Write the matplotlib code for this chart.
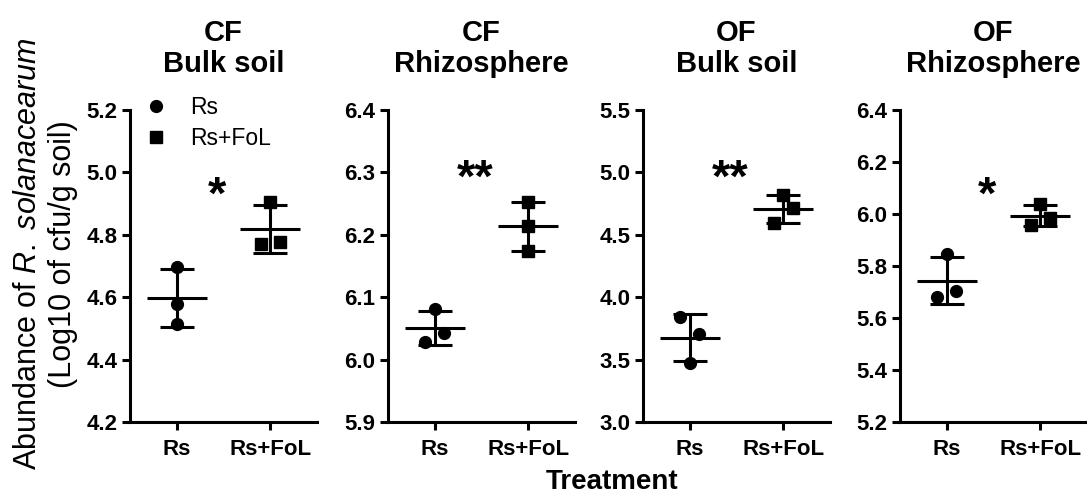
import numpy as np
import matplotlib
matplotlib.use("Agg")
import matplotlib.pyplot as plt
from matplotlib.ticker import FormatStrFormatter, MultipleLocator

plt.rcParams["font.family"] = ["Liberation Sans", "DejaVu Sans"]
plt.rcParams["mathtext.fontset"] = "custom"
plt.rcParams["mathtext.rm"] = "Liberation Sans"
plt.rcParams["mathtext.it"] = "Liberation Sans:italic"

# ---- data: log10 cfu/g soil, three replicates per group ----
TITLES = ["CF\nBulk soil", "CF\nRhizosphere", "OF\nBulk soil", "OF\nRhizosphere"]
GROUPS = ["Rs", "Rs+FoL"]

RS = [
    [4.697, 4.578, 4.515],
    [6.081, 6.029, 6.042],
    [3.845, 3.705, 3.475],
    [5.846, 5.682, 5.704],
]
RS_FOL = [
    [4.906, 4.772, 4.778],
    [6.252, 6.214, 6.1745],
    [4.597, 4.712, 4.819],
    [6.038, 5.958, 5.983],
]
STARS = ["*", "**", "**", "*"]

YLIMS = [(4.2, 5.2), (5.9, 6.4), (3.0, 5.5), (5.2, 6.4)]
YSTEPS = [0.2, 0.1, 0.5, 0.2]

# ---- layout ----
W, H = 1087, 493
AX_LEFT = [130, 388, 643, 900]
AX_W, AX_H, AX_BOTTOM = 187, 312, 71
LW = 2.2


def spread(vals, span, gap=0.059, off=0.1):
    """Side-by-side offsets for neighbouring points that would overlap."""
    vals = np.asarray(vals)
    order = np.argsort(vals)
    dx = np.zeros(len(vals))
    i = 0
    while i < len(order):
        a = order[i]
        if i + 1 < len(order):
            b = order[i + 1]
            if vals[b] - vals[a] < gap * span:
                lo, hi = sorted((a, b))
                dx[lo] = -off
                dx[hi] = off
                i += 2
                continue
        i += 1
    return dx


fig = plt.figure(figsize=(W / 100, H / 100), dpi=100)

for k in range(4):
    ax = fig.add_axes([AX_LEFT[k] / W, AX_BOTTOM / H, AX_W / W, AX_H / H])
    lo, hi = YLIMS[k]

    for j, (vals, marker, ms) in enumerate([(RS[k], "o", 8.5), (RS_FOL[k], "s", 9)]):
        x = j + spread(vals, hi - lo)
        ax.plot(x, vals, ls="none", marker=marker, ms=ms, color="k",
                label=GROUPS[j], clip_on=False)
        m = np.mean(vals)
        sd = np.std(vals, ddof=1)
        ax.errorbar(j, m, yerr=sd, color="k", lw=LW, capsize=12, capthick=LW)
        ax.plot([j - 0.32, j + 0.32], [m, m], color="k", lw=LW,
                solid_capstyle="butt")

    ax.set_xlim(-0.5, 1.5)
    ax.set_ylim(lo, hi)
    ax.set_xticks([0, 1])
    ax.set_xticklabels(GROUPS)
    ax.yaxis.set_major_locator(MultipleLocator(YSTEPS[k]))
    ax.yaxis.set_major_formatter(FormatStrFormatter("%.1f"))
    ax.tick_params(width=LW, length=6, labelsize=16, pad=3)
    ax.tick_params(axis="x", pad=6)
    for lbl in ax.get_xticklabels() + ax.get_yticklabels():
        lbl.set_fontweight("bold")

    for s in ["top", "right"]:
        ax.spines[s].set_visible(False)
    for s in ["left", "bottom"]:
        ax.spines[s].set_linewidth(LW)

    ax.set_title(TITLES[k], fontsize=21, fontweight="bold", pad=27,
                 linespacing=1.15)

    # significance marks sit between the two groups
    star_y = 0.682 if len(STARS[k]) == 1 else 0.739
    ax.text(0.43, star_y, STARS[k], transform=ax.get_xaxis_transform(),
            fontsize=34, fontweight="bold", ha="center", va="baseline")

    if k == 0:
        ax.legend(loc="upper left", bbox_to_anchor=(0.078, 1.046),
                  frameon=False, fontsize=16.5, handlelength=1.0,
                  handletextpad=1.0, labelspacing=0.35, borderpad=0,
                  borderaxespad=0, numpoints=1)

fig.text(0.026, 0.485, r"Abundance of $\mathit{R.\ solanacearum}$",
         rotation=90, fontsize=22, ha="center", va="center")
fig.text(0.058, 0.485, "(Log10 of cfu/g soil)",
         rotation=90, fontsize=22, ha="center", va="center")
fig.text(612 / W, 4 / H, "Treatment", fontsize=20, fontweight="bold",
         ha="center", va="baseline")

fig.savefig("out.png", dpi=100)
